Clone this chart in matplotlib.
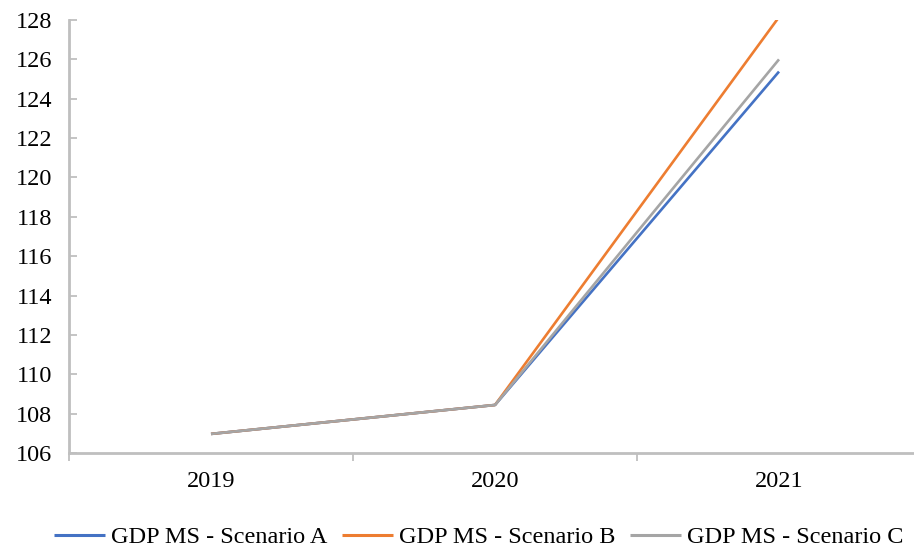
import matplotlib
matplotlib.use("Agg")
import matplotlib.pyplot as plt
from matplotlib.ticker import FixedLocator, NullFormatter

years = ["2019", "2020", "2021"]
scenario_a = [106.97, 108.44, 125.38]
scenario_b = [106.97, 108.44, 128.15]
scenario_c = [106.97, 108.44, 126.00]
series_names = ["GDP MS - Scenario A", "GDP MS - Scenario B", "GDP MS - Scenario C"]
y_ticks = list(range(106, 129, 2))

colors = ["#4472C4", "#ED7D31", "#A5A5A5"]

plt.rcParams["font.family"] = ["Liberation Serif", "DejaVu Serif"]
FS = 17.5

fig = plt.figure(figsize=(9.14, 5.48), dpi=100)
ax = fig.add_axes([69 / 914, 1 - 453 / 548, (914 - 69) / 914, (453 - 20) / 548])

x = list(range(len(years)))
for vals, name, col in zip([scenario_a, scenario_b, scenario_c], series_names, colors):
    ax.plot(x, vals, color=col, linewidth=1.9, label=name, solid_capstyle="butt")

ax.set_ylim(106, 128)
ax.set_xlim(-0.5, 2.5 - 7 / 283.5)
ax.set_yticks(y_ticks)
ax.set_yticklabels([str(t) for t in y_ticks], fontsize=FS)

# category labels on minor ticks, boundary ticks as major ticks
ax.xaxis.set_major_locator(FixedLocator([-0.5, 0.5, 1.5, 2.5]))
ax.xaxis.set_major_formatter(NullFormatter())
ax.xaxis.set_minor_locator(FixedLocator(x))
ax.set_xticklabels(years, minor=True, fontsize=FS)
ax.tick_params(axis="x", which="major", direction="out", length=6, width=1.3, color="#BFBFBF")
ax.tick_params(axis="x", which="minor", length=0, pad=13)
ax.tick_params(axis="y", direction="in", length=6, width=1.3, color="#BFBFBF", pad=12)

for side in ["top", "right"]:
    ax.spines[side].set_visible(False)
for side in ["left", "bottom"]:
    ax.spines[side].set_color("#BFBFBF")
    ax.spines[side].set_linewidth(2)

leg = fig.legend(loc="center", bbox_to_anchor=(0.5 + 22 / 914, 1 - 537 / 548), ncol=3,
                 frameon=False, fontsize=FS, handlelength=2.1, handletextpad=0.25,
                 columnspacing=0.6, borderaxespad=0)
for line in leg.get_lines():
    line.set_linewidth(2.2)

fig.savefig("out.png", dpi=100)
